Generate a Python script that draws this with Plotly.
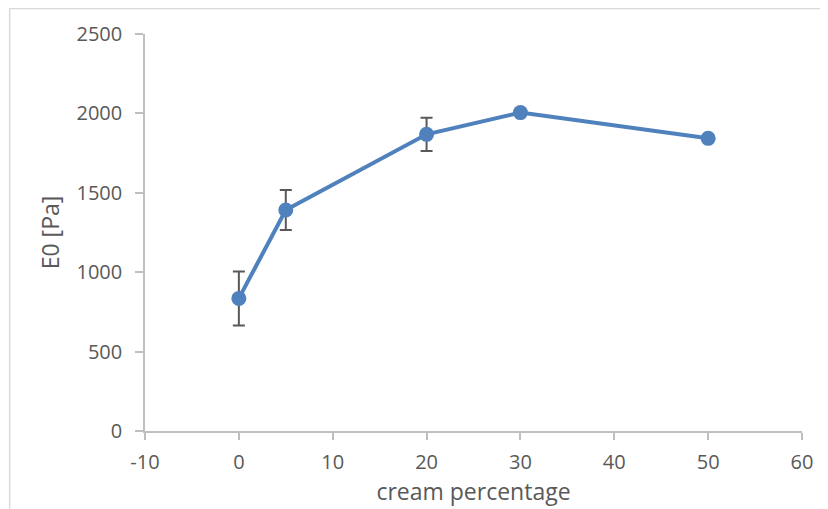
import plotly.graph_objects as go

cream = [0, 5, 20, 30, 50]
e0 = [835, 1392, 1868, 2005, 1843]
err = [170, 126, 104, 15, 0]

x_ticks = [-10, 0, 10, 20, 30, 40, 50, 60]
y_ticks = [0, 500, 1000, 1500, 2000, 2500]

blue = "#4f81bd"
gray_txt = "#595959"
axis_col = "#bfbfbf"
font_fam = "Open Sans, Liberation Sans, sans-serif"

fig = go.Figure()
fig.add_trace(go.Scatter(
    x=cream, y=e0, mode="lines+markers",
    line=dict(color=blue, width=4),
    marker=dict(color=blue, size=15),
    error_y=dict(type="data", array=err, visible=True, color=gray_txt, thickness=2, width=6),
    showlegend=False,
))

fig.update_layout(
    width=828, height=509,
    margin=dict(l=137, r=34, t=26, b=86),
    paper_bgcolor="white", plot_bgcolor="white",
    font=dict(family=font_fam, color=gray_txt, size=20),
    xaxis=dict(
        range=[-10, 60], tickvals=x_ticks, ticktext=[str(v) for v in x_ticks],
        tickfont=dict(size=20, color=gray_txt),
        showgrid=False, zeroline=False, showline=True, linecolor=axis_col, linewidth=1.5,
        ticks="outside", ticklen=7, tickcolor=axis_col, tickwidth=1.5,
        ticklabelstandoff=5,
        title=dict(text="cream percentage", font=dict(size=23, color=gray_txt), standoff=6),
    ),
    yaxis=dict(
        range=[0, 2500], tickvals=y_ticks, ticktext=[str(v) for v in y_ticks],
        tickfont=dict(size=20, color=gray_txt),
        showgrid=False, zeroline=False, showline=True, linecolor=axis_col, linewidth=1.5,
        ticks="outside", ticklen=8, tickcolor=axis_col, tickwidth=1.5,
        ticklabelstandoff=9,
        title=dict(text="E0 [Pa]", font=dict(size=23, color=gray_txt), standoff=10),
    ),
    shapes=[dict(type="rect", xref="paper", yref="paper",
                 x0=-0.206, x1=1.3, y0=-0.5, y1=1.064,
                 line=dict(color="#d9d9d9", width=1.5), fillcolor="rgba(0,0,0,0)", layer="below")],
)

fig.write_html("out.html")
